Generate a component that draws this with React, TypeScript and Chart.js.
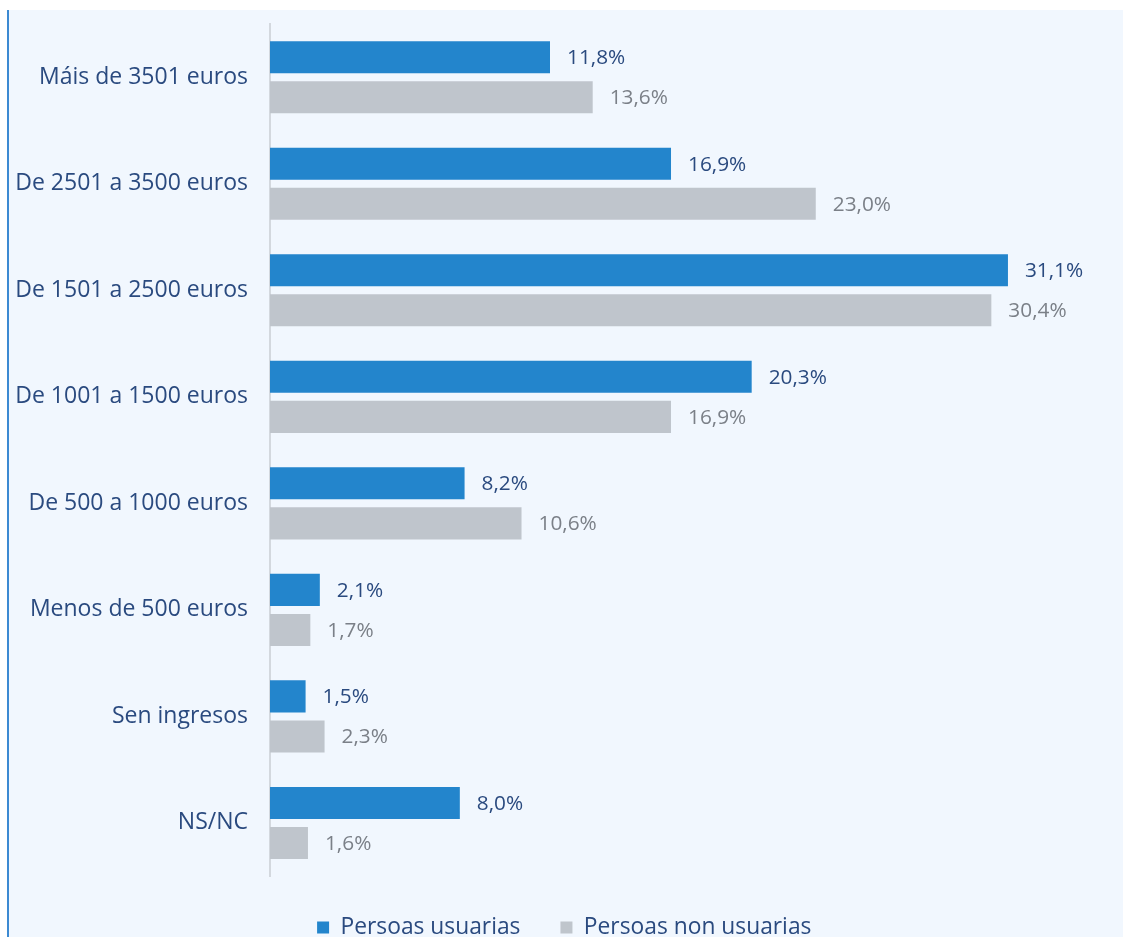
import React, { useEffect, useRef } from "react";
import { Chart, registerables } from "chart.js";

Chart.register(...registerables);

const categories = [
  "Máis de 3501 euros",
  "De 2501 a 3500 euros",
  "De 1501 a 2500 euros",
  "De 1001 a 1500 euros",
  "De 500 a 1000 euros",
  "Menos de 500 euros",
  "Sen ingresos",
  "NS/NC",
];
const usuarias = [11.8, 16.9, 31.1, 20.3, 8.2, 2.1, 1.5, 8.0];
const nonUsuarias = [13.6, 23.0, 30.4, 16.9, 10.6, 1.7, 2.3, 1.6];
const seriesNames = ["Persoas usuarias", "Persoas non usuarias"];

const FONT = "'Open Sans'";
const BLUE = "#2385cc";
const GREY = "#bfc5cc";
const NAVY = "#2a4a7f";
const GREY_TEXT = "#7b8088";

const valueLabels = {
  id: "valueLabels",
  afterDatasetsDraw(chart: any) {
    const ctx = chart.ctx;
    ctx.save();
    ctx.font = `20.8px ${FONT}`;
    ctx.textBaseline = "middle";
    ctx.textAlign = "left";
    chart.data.datasets.forEach((ds: any, di: number) => {
      const meta = chart.getDatasetMeta(di);
      ctx.fillStyle = di === 0 ? NAVY : GREY_TEXT;
      meta.data.forEach((el: any, i: number) => {
        const v = ds.data[i] as number;
        const txt = v.toFixed(1).replace(".", ",") + "%";
        ctx.fillText(txt, el.x + 17, el.y + 1);
      });
    });
    ctx.restore();
  },
};

export default function App() {
  const ref = useRef<HTMLCanvasElement>(null);
  useEffect(() => {
    if (!ref.current) return;
    const chart = new Chart(ref.current, {
      type: "bar",
      data: {
        labels: categories,
        datasets: [
          {
            label: seriesNames[0],
            data: usuarias,
            backgroundColor: BLUE,
            categoryPercentage: 0.752,
            barPercentage: 0.8,
          },
          {
            label: seriesNames[1],
            data: nonUsuarias,
            backgroundColor: GREY,
            categoryPercentage: 0.752,
            barPercentage: 0.8,
          },
        ],
      },
      options: {
        indexAxis: "y",
        animation: false,
        responsive: false,
        maintainAspectRatio: false,
        layout: { padding: { top: 24, right: 22.5, left: 0, bottom: 12 } },
        scales: {
          x: { display: false, min: 0, max: 36.18 },
          y: {
            grid: { display: false, drawTicks: false },
            border: { display: true, color: "#d3d8de", width: 2 },
            ticks: {
              padding: 22,
              color: NAVY,
              font: { family: FONT, size: 23 },
            },
            afterFit(scale: any) {
              scale.width = 270;
              scale.paddingTop = 0;
              scale.paddingBottom = 0;
            },
          },
        },
        plugins: {
          legend: {
            position: "bottom",
            labels: {
              boxWidth: 12,
              boxHeight: 12,
              padding: 40,
              color: NAVY,
              font: { family: FONT, size: 22.8 },
            },
          },
          tooltip: { enabled: false },
        },
      },
      plugins: [valueLabels],
    });
    return () => chart.destroy();
  }, []);

  return (
    <div
      style={{
        position: "fixed",
        left: 0,
        top: 0,
        width: 1123,
        height: 937,
        overflow: "hidden",
        background: "#ffffff",
      }}
    >
      <div
        style={{
          position: "absolute",
          left: 7,
          top: 10,
          width: 1116,
          height: 940,
          background: "#f1f7fe",
          borderLeft: "2px solid #3c8ad2",
          boxSizing: "border-box",
        }}
      />
      <canvas
        ref={ref}
        width={1151}
        height={961}
        style={{ position: "absolute", left: 0, top: 0, width: 1151, height: 961 }}
      />
    </div>
  );
}
